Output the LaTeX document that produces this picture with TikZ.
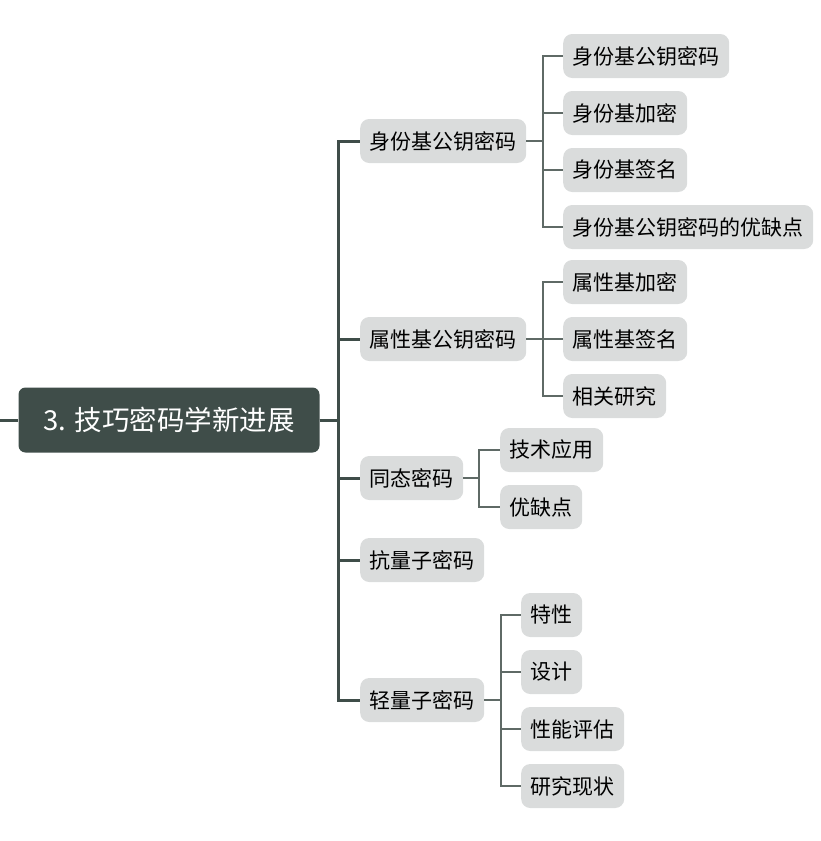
\documentclass[tikz,border=0pt]{standalone}
\usepackage{fontspec}
\setmainfont{Noto Sans CJK SC}
\usepackage{xcolor}
\definecolor{verdeoscuro}{HTML}{3F4D49}
\definecolor{grisnodo}{HTML}{DADCDC}
\definecolor{gristrazo}{HTML}{5F6A66}
\tikzset{
        raiz/.style={fill=verdeoscuro, text=white, rounded corners=7pt,
                minimum width=301pt, minimum height=65pt, inner xsep=0pt,
                font=\fontsize{27.5}{32}\selectfont},
        tema/.style={fill=grisnodo, rounded corners=9pt, anchor=west,
                minimum height=44pt, inner xsep=9.5pt, inner ysep=0pt,
                font=\fontsize{21}{25}\selectfont},
        tronco/.style={verdeoscuro, line width=3pt},
        rama/.style={gristrazo, line width=2pt},
}

\begin{document}
\begin{tikzpicture}[x=1pt,y=-1pt]
        \useasboundingbox (0,0) rectangle (821,841);
        \node [raiz] (raiz) at (169,420) {3. 技巧密码学新进展};
        \coordinate (entrada) at (0,420);
        \draw[tronco] (entrada) -- (raiz.west); % entrada
        % primer nivel
        \node [tema] (ibc) at (360,141) {身份基公钥密码};
        \node [tema] (abe) at (360,339) {属性基公钥密码};
        \node [tema] (fhe) at (360,478) {同态密码};
        \node [tema] (pqc) at (360,560) {抗量子密码};
        \node [tema] (lwc) at (360,700) {轻量子密码};
        \foreach \n in {ibc,abe,fhe,pqc,lwc}
        \draw[tronco] (raiz.east) -- ++(19,0) |- (\n.west);
        % segundo nivel: ibc
        \node [tema] (ibc1) at (563,56) {身份基公钥密码};
        \node [tema] (ibc2) at (563,113) {身份基加密};
        \node [tema] (ibc3) at (563,170) {身份基签名};
        \node [tema] (ibc4) at (563,227) {身份基公钥密码的优缺点};
        \foreach \n in {ibc1,ibc2,ibc3,ibc4}
        \draw[rama] (ibc.east) -- ++(17,0) |- (\n.west);
        % segundo nivel: abe
        \node [tema] (abe1) at (563,282) {属性基加密};
        \node [tema] (abe2) at (563,339) {属性基签名};
        \node [tema] (abe3) at (563,396) {相关研究};
        \foreach \n in {abe1,abe2,abe3}
        \draw[rama] (abe.east) -- ++(17,0) |- (\n.west);
        % segundo nivel: fhe
        \node [tema] (fhe1) at (500,450) {技术应用};
        \node [tema] (fhe2) at (500,507) {优缺点};
        \foreach \n in {fhe1,fhe2}
        \draw[rama] (fhe.east) -- ++(16,0) |- (\n.west);
        % segundo nivel: lwc
        \node [tema] (lwc1) at (521,615) {特性};
        \node [tema] (lwc2) at (521,672) {设计};
        \node [tema] (lwc3) at (521,729) {性能评估};
        \node [tema] (lwc4) at (521,786) {研究现状};
        \foreach \n in {lwc1,lwc2,lwc3,lwc4}
        \draw[rama] (lwc.east) -- ++(17,0) |- (\n.west);
\end{tikzpicture}
\end{document}
